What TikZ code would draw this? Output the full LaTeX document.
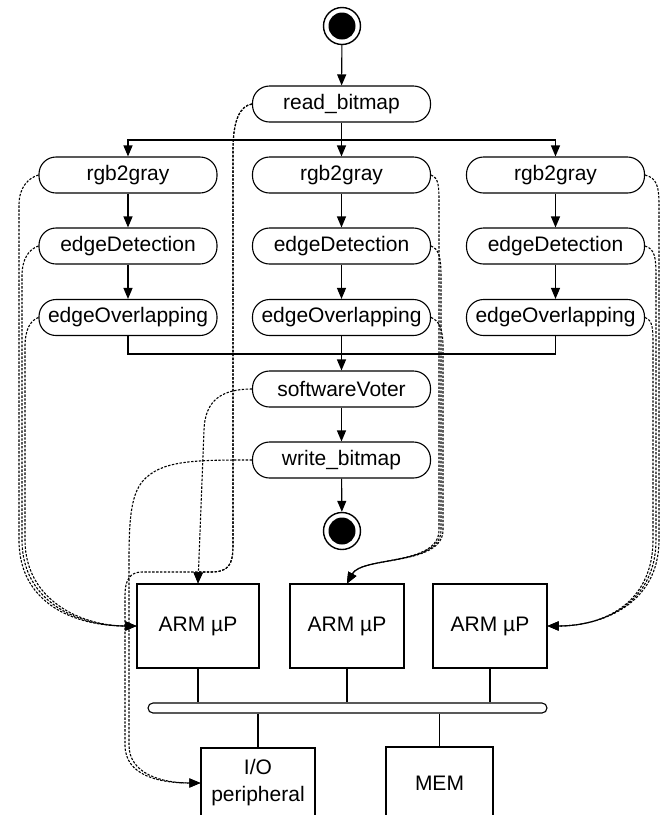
\documentclass[tikz,border=0pt]{standalone}
\usepackage{fontspec}
\setmainfont{Liberation Sans}
\usetikzlibrary{arrows.meta,calc}
\begin{document}
\begin{tikzpicture}[x=1pt,y=-1pt,
  font=\fontsize{21pt}{25pt}\selectfont,
  act/.style={draw, line width=1.1pt, rounded corners=17pt, minimum width=178pt, minimum height=36pt, inner sep=0pt},
  flow/.style={line width=1.1pt, -{Triangle[length=11pt,width=9pt]}},
  plain/.style={line width=1.1pt},
  map/.style={line width=1.1pt, dash pattern=on 2.4pt off 1.5pt, -{Triangle[length=11pt,width=9pt]}},
  hw/.style={draw, line width=1.1pt, inner sep=0pt},
  term/.style={circle, draw, line width=1.4pt, minimum size=37pt, inner sep=0pt,
    path picture={\fill[black] (path picture bounding box.center) circle[radius=13.5pt];}},
]
\useasboundingbox (0,0) rectangle (662,815);
\clip (0,0) rectangle (662,815);

% activity nodes
\node[term] (start) at (342,26) {};
\node[act] (read) at (341.5,104) {read\_bitmap};
\node[act] (L1) at (128,175) {rgb2gray};
\node[act] (M1) at (341.5,175) {rgb2gray};
\node[act] (R1) at (555.5,175) {rgb2gray};
\node[act] (L2) at (128,246) {edgeDetection};
\node[act] (M2) at (341.5,246) {edgeDetection};
\node[act] (R2) at (555.5,246) {edgeDetection};
\node[act] (L3) at (128,317.5) {edgeOverlapping};
\node[act] (M3) at (341.5,317.5) {edgeOverlapping};
\node[act] (R3) at (555.5,317.5) {edgeOverlapping};
\node[act] (sv) at (341.5,389) {softwareVoter};
\node[act] (wb) at (341.5,460) {write\_bitmap};
\node[term] (end) at (342,531) {};

% hardware
\node[hw, minimum width=122pt, minimum height=84pt] (armL) at (198,626) {ARM µP};
\node[hw, minimum width=114pt, minimum height=84pt] (armM) at (347,626) {ARM µP};
\node[hw, minimum width=114pt, minimum height=84pt] (armR) at (490,626) {ARM µP};
\node[draw, line width=1.1pt, rounded corners=5pt, minimum width=399pt, minimum height=10pt, inner sep=0pt] (bus) at (347.5,708) {};
\node[hw, minimum width=114pt, minimum height=70pt, align=center] (io) at (258,783) {I/O\\[2pt]peripheral};
\node[hw, minimum width=107pt, minimum height=72pt] (mem) at (439.5,783) {MEM};

% control flow
\draw[flow] (start) -- (read);
\coordinate (br) at (341.5,140);
\draw[flow] (read) -- (M1);
\draw[flow] (br) -| (L1.north);
\draw[flow] (br) -| (R1.north);
\foreach \c in {L,M,R} {
  \draw[flow] (\c1) -- (\c2);
  \draw[flow] (\c2) -- (\c3);
}
\coordinate (mg) at (341.5,354);
\draw[plain] (L3.south) |- (mg);
\draw[plain] (R3.south) |- (mg);
\draw[flow] (M3) -- (sv);
\draw[flow] (sv) -- (wb);
\draw[flow] (wb) -- (end);

% bus connections
\draw[plain] (armL.south) -- (armL.south |- bus.north);
\draw[plain] (armM.south) -- (armM.south |- bus.north);
\draw[plain] (armR.south) -- (armR.south |- bus.north);
\draw[plain] (bus.south -| io.north) -- (io.north);
\draw[plain] (bus.south -| mem.north) -- (mem.north);

% mapping: left column
\draw[map] (L1.west) .. controls +(-10,3) and +(0,-18) .. (19,205) -- (19,540) .. controls (19,604) and (75,626) .. (armL.west);
\draw[map] (L2.west) .. controls +(-9,3) and +(0,-18) .. (22,276) -- (22,540) .. controls (22,602) and (78,626) .. (armL.west);
\draw[map] (L3.west) .. controls +(-8,3) and +(0,-18) .. (25,347) -- (25,540) .. controls (25,600) and (81,626) .. (armL.west);

% mapping: middle column
\draw[map] (M1.east) .. controls +(8,3) and +(0,-18) .. (439,205) -- (439,530) .. controls (439,566) and (362,556) .. (armM.north);
\draw[map] (M2.east) .. controls +(8,3) and +(0,-18) .. (441,276) -- (441,530) .. controls (441,566) and (362,556) .. (armM.north);
\draw[map] (M3.east) .. controls +(8,3) and +(0,-18) .. (443,347) -- (443,530) .. controls (443,566) and (362,556) .. (armM.north);

% mapping: right column
\draw[map] (R1.east) .. controls +(12,3) and +(0,-18) .. (659,205) -- (659,540) .. controls (659,604) and (602,626) .. (armR.east);
\draw[map] (R2.east) .. controls +(10,3) and +(0,-18) .. (656,276) -- (656,540) .. controls (656,602) and (605,626) .. (armR.east);
\draw[map] (R3.east) .. controls +(8,3) and +(0,-18) .. (653,347) -- (653,540) .. controls (653,600) and (608,626) .. (armR.east);

% mapping: read, voter, write
\draw[map] (read.west) .. controls (240,106) and (233,120) .. (233,150) -- (233,545) .. controls (233,566) and (228,572) .. (210,572) -- (198,572) -- (armL.north);
\draw[map] (read.west) .. controls (240,106) and (233,120) .. (233,150) -- (233,545) .. controls (233,566) and (228,572) .. (210,572) -- (142,572) .. controls (130,572) and (125,580) .. (125,595) -- (125,745) .. controls (125,776) and (160,783) .. (io.west);
\draw[map] (sv.west) .. controls (222,389) and (205,400) .. (204,430) -- (armL.north);
\draw[map] (wb.west) .. controls (195,460) and (160,460) .. (142,482) .. controls (131,496) and (129,520) .. (129,560) -- (129,745) .. controls (129,774) and (162,783) .. (io.west);
\end{tikzpicture}
\end{document}
